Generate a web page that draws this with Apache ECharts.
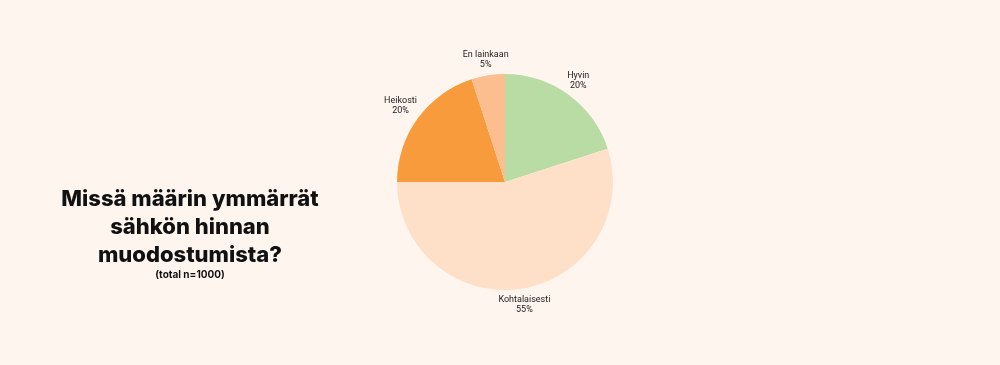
<!DOCTYPE html>
<html><head><meta charset="utf-8">
<script src="https://cdn.jsdelivr.net/npm/echarts@6/dist/echarts.min.js"></script>
<style>html,body{margin:0;padding:0;background:#FEF5EE;}#c{width:1000px;height:365px;}</style>
</head><body><div id="c"></div>
<script>
const categories = ['Hyvin', 'Kohtalaisesti', 'Heikosti', 'En lainkaan'];
const values = [20, 55, 20, 5];
const colors = ['#B9DCA5', '#FEE0C8', '#F89B3D', '#FCBE8E'];
const titleText = 'Missä määrin ymmärrät\nsähkön hinnan\nmuodostumista?';
const subText = '(total n=1000)';

const CX = 505, CY = 182, R = 108, GAP = 2;
const total = values.reduce((a, b) => a + b, 0);
const chart = echarts.init(document.getElementById('c'));
chart.setOption({
  backgroundColor: '#FEF5EE',
  title: {
    text: titleText, subtext: subText,
    left: 185, top: 180, textAlign: 'center',
    textStyle: { fontFamily: 'Inter', fontWeight: 800, fontSize: 22, lineHeight: 28, color: '#111' },
    subtextStyle: { fontFamily: 'Inter', fontWeight: 700, fontSize: 10, color: '#111' },
    itemGap: 1
  },
  series: [{
    type: 'pie',
    center: [CX, CY], radius: R,
    startAngle: 90, clockwise: true,
    silent: true,
    data: categories.map((n, i) => ({ name: n, value: values[i], itemStyle: { color: colors[i] } })),
    label: {
      show: true, position: 'outside',
      formatter: '{b}\n{d}%',
      fontFamily: 'Roboto', fontSize: 9, lineHeight: 10, color: '#222'
    },
    labelLine: { show: false },
    labelLayout: function (p) {
      let cum = 0;
      for (let i = 0; i < p.dataIndex; i++) cum += values[i];
      const mid = (cum + values[p.dataIndex] / 2) / total * Math.PI * 2;
      const dx = Math.sin(mid), dy = -Math.cos(mid);
      const w = p.labelRect.width, h = p.labelRect.height;
      const d = R + GAP + Math.abs(dx) * w / 2 + Math.abs(dy) * h / 2;
      return { x: CX + dx * d, y: CY + dy * d, align: 'center', verticalAlign: 'middle' };
    }
  }]
});
</script></body></html>
